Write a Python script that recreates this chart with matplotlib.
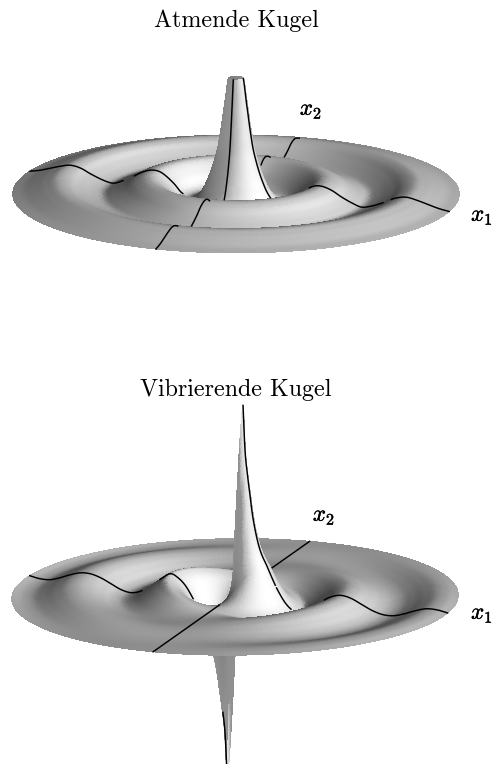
import numpy as np
import matplotlib
matplotlib.use("Agg")
import matplotlib.pyplot as plt
import matplotlib.patheffects as pe
from mpl_toolkits.mplot3d import proj3d

W, H = 493, 764
plt.rcParams['mathtext.fontset'] = 'cm'
plt.rcParams['font.family'] = ['cmr10', 'DejaVu Serif']
plt.rcParams['axes.formatter.use_mathtext'] = True

# radial profiles: radius (disc radius = 1), height (pixels)
r_breathing = [0.035, 0.04, 0.05, 0.056, 0.065, 0.08, 0.095, 0.112, 0.13, 0.15, 0.18, 0.22, 0.26, 0.30,
               0.355, 0.40, 0.45, 0.50, 0.55, 0.593, 0.64, 0.70, 0.75, 0.80, 0.85, 0.90, 0.95, 1.0]
z_breathing = [112, 105, 88, 79, 65, 45, 32, 20, 10, 1, -7, -10, -7, 2,
               11, 13, 10, 4, -1, -4, -2, 3, 8, 10, 8, 5, 2, 0]
r_vibrating = [0.038, 0.048, 0.06, 0.071, 0.085, 0.105, 0.125, 0.152, 0.18, 0.205, 0.24, 0.276, 0.31, 0.35,
               0.40, 0.45, 0.50, 0.55, 0.60, 0.65, 0.70, 0.75, 0.80, 0.85, 0.90, 0.95, 1.0]
z_vibrating = [187, 142, 118, 100, 78, 57, 43, 31, 18, 7.5, -4, -11, -14, -9,
               -1, 6, 9, 7, 2, -3, -6, -6, -3, 1, 4, 4, 2]

titles = ["Atmende Kugel", "Vibrierende Kugel"]
title_y = [21, 390]
label_x1 = [(482, 217), (482, 615)]
label_x2 = [(311, 111), (324, 517)]
centers = [(236, 191), (235, 594)]
azims = [-70, -69.5]
ELEV = 15.3
RADIUS_PX = 223
S = 800


def smooth(values, sub=8):
    v = np.asarray(values, float)
    p = np.r_[2 * v[0] - v[1], v, 2 * v[-1] - v[-2]]
    t = np.linspace(0, 1, sub, endpoint=False)[:, None]
    a, b, c, d = p[:-3], p[1:-2], p[2:-1], p[3:]
    out = 0.5 * (2 * b + (c - a) * t + (2 * a - 5 * b + 4 * c - d) * t ** 2 + (3 * b - a - 3 * c + d) * t ** 3)
    return np.r_[out.T.ravel(), v[-1]]


def surface(rs, zs, dipole, theta):
    rr = smooth(rs)
    zz = smooth(zs) / RADIUS_PX / np.cos(np.radians(ELEV))
    R, T = np.meshgrid(rr, theta, indexing='ij')
    Z = zz[:, None] * (np.cos(T) if dipole else np.ones_like(T))
    return R * np.cos(T), R * np.sin(T), Z


def shade(X, Y, Z, azim):
    ux, vx = np.gradient(X)
    uy, vy = np.gradient(Y)
    uz, vz = np.gradient(Z)
    n = np.stack([uy * vz - uz * vy, uz * vx - ux * vz, ux * vy - uy * vx], -1)
    n /= np.linalg.norm(n, axis=-1, keepdims=True) + 1e-12
    n *= np.sign(n[..., 2:3] + 1e-9)
    a = np.radians(azim + 42)
    e = np.radians(32)
    L = np.array([np.cos(e) * np.cos(a), np.cos(e) * np.sin(a), np.sin(e)])
    d = n @ L - L[2]
    nz = n[..., 2]
    g = np.where(d >= 0, 0.57 + 0.92 * d, 0.57 + 0.9 * d * nz ** 1.5)
    g = np.clip(g, 0.27, 1.0)
    return np.dstack([g, g, g, np.ones_like(g)])


def calibrate(ax, azim, cx, cy):
    ax.set_position([(cx - S / 2) / W, (H - cy - S / 2) / H, S / W, S / H])
    a = np.radians(azim)
    zoom = 1.0
    for _ in range(3):
        ax.set_box_aspect((1, 1, 1), zoom=zoom)
        ax.apply_aspect()
        M = ax.get_proj()
        xs, ys, _z = proj3d.proj_transform(
            np.array([0, -np.sin(a), np.sin(a)]), np.array([0, np.cos(a), -np.cos(a)]), np.zeros(3), M)
        p = ax.transData.transform(np.c_[xs, ys])
        zoom *= 2 * RADIUS_PX / np.hypot(*(p[1] - p[2]))
    ax.set_box_aspect((1, 1, 1), zoom=zoom)
    ax.apply_aspect()
    xs, ys, _z = proj3d.proj_transform(np.zeros(1), np.zeros(1), np.zeros(1), ax.get_proj())
    p = ax.transData.transform(np.c_[xs, ys])[0]
    dx, dy = cx - p[0], (H - cy) - p[1]
    ax.set_position([(cx - S / 2 + dx) / W, (H - cy - S / 2 + dy) / H, S / W, S / H])
    ax.apply_aspect()


def visible_runs(ax, azim, X, Y, Z, lx, ly, lz, dipole):
    M = ax.get_proj()
    a, e = np.radians(azim), np.radians(ELEV)
    v = np.array([np.cos(e) * np.cos(a), np.cos(e) * np.sin(a), np.sin(e)])

    def scr(x, y, z):
        xs, ys, _ = proj3d.proj_transform(x, y, z, M)
        return ax.transData.transform(np.c_[xs, ys]), -(x * v[0] + y * v[1] + z * v[2])

    pts, dep = scr(X.ravel(), Y.ravel(), Z.ravel())
    ij = np.floor(pts / 2).astype(int) + 500
    buf = np.full((2000, 2000), np.inf)
    ok = (ij >= 0).all(1) & (ij < 2000).all(1)
    np.minimum.at(buf, (ij[ok, 0], ij[ok, 1]), dep[ok])
    lp, ld = scr(lx, ly, lz)
    lij = np.clip(np.floor(lp / 2).astype(int) + 500, 0, 1999)
    rad = np.hypot(lx, ly)
    tol = np.where(rad < 0.2, 0.018, 0.08)
    if dipole:
        tol = np.where((rad < 0.06) & (lz < -0.1), 0.15, tol)
    vis = ld <= buf[lij[:, 0], lij[:, 1]] + tol
    runs, start = [], None
    for i, flag in enumerate(np.r_[vis, False]):
        if flag and start is None:
            start = i
        elif not flag and start is not None:
            if i - start >= 4:
                runs.append((start, i))
            start = None
    return runs


fig = plt.figure(figsize=(W / 100, H / 100), dpi=100, facecolor='white')
theta_mesh = np.radians(np.arange(0, 360.5, 2.0))
theta_dense = np.radians(np.arange(0, 360, 0.25))
profiles = [(r_breathing, z_breathing, False), (r_vibrating, z_vibrating, True)]
bold = [pe.withStroke(linewidth=0.3, foreground='black')]

for k, (rs, zs, dip) in enumerate(profiles):
    ax = fig.add_axes([0, 0, 1, 1], projection='3d', proj_type='persp', computed_zorder=False)
    ax.patch.set_visible(False)
    ax.view_init(elev=ELEV, azim=azims[k])
    ax.set_xlim(-0.55, 0.55)
    ax.set_ylim(-0.55, 0.55)
    ax.set_zlim(-0.55, 0.55)
    ax.set_axis_off()
    calibrate(ax, azims[k], *centers[k])
    X, Y, Z = surface(rs, zs, dip, theta_mesh)
    ax.plot_surface(X, Y, Z, facecolors=shade(X, Y, Z, azims[k]), rstride=1, cstride=1,
                    shade=False, linewidth=0, antialiased=False, zorder=1)
    Xd, Yd, Zd = surface(rs, zs, dip, theta_dense)
    for th0 in (0, 90, 180, 270):
        lX, lY, lZ = surface(rs, zs, dip, np.array([np.radians(th0)]))
        lx, ly, lz = lX[:, 0], lY[:, 0], lZ[:, 0]
        for s, t in visible_runs(ax, azims[k], Xd, Yd, Zd, lx, ly, lz, dip):
            ax.plot(lx[s:t], ly[s:t], lz[s:t], color='black', lw=1.05, zorder=5)
    fig.text(236 / W, 1 - title_y[k] / H, titles[k], fontsize=17.3, ha='center', va='center', color='black')
    fig.text(label_x1[k][0] / W, 1 - label_x1[k][1] / H, r'$x_1$', fontsize=16.5, ha='center', va='center',
             color='black', path_effects=bold)
    fig.text(label_x2[k][0] / W, 1 - label_x2[k][1] / H, r'$x_2$', fontsize=16.5, ha='center', va='center',
             color='black', path_effects=bold)

fig.savefig('out.png', dpi=100)
